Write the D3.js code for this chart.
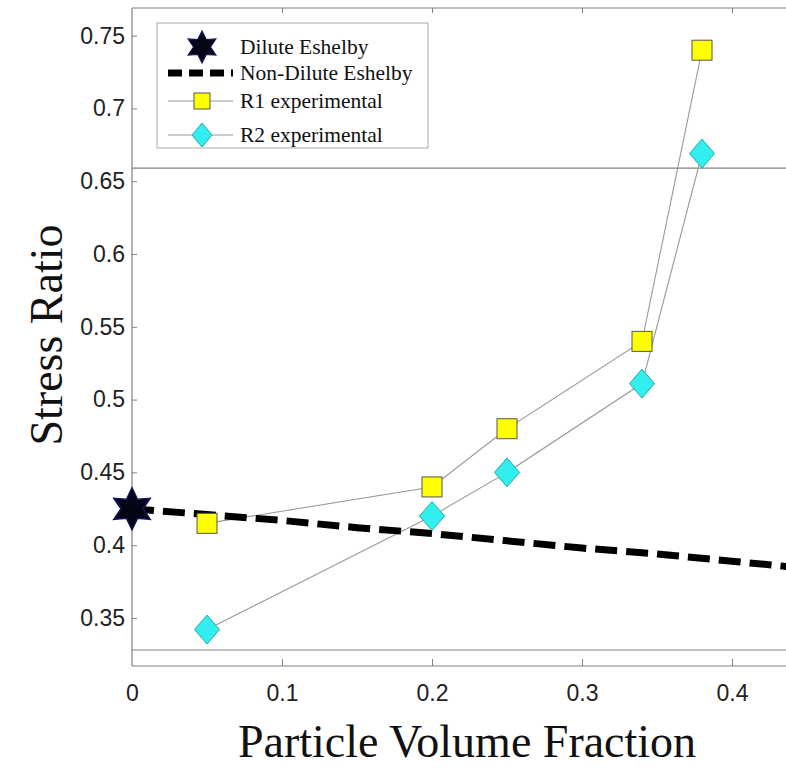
<!DOCTYPE html>
<html><head><meta charset="utf-8">
<script src="https://cdn.jsdelivr.net/npm/d3@7/dist/d3.min.js"></script>
<style>
html,body{margin:0;padding:0;background:#fff;}
svg{display:block;}
</style></head>
<body>
<script>
// ---- data ----
const xTickValues = [0, 0.1, 0.2, 0.3, 0.4];
const xTickLabels = ["0", "0.1", "0.2", "0.3", "0.4"];
const yTickValues = [0.35, 0.4, 0.45, 0.5, 0.55, 0.6, 0.65, 0.7, 0.75];
const yTickLabels = ["0.35", "0.4", "0.45", "0.5", "0.55", "0.6", "0.65", "0.7", "0.75"];
const expX = [0.05, 0.2, 0.25, 0.34, 0.38];
const r1Values = [0.415, 0.44, 0.48, 0.54, 0.74];
const r2Values = [0.342, 0.42, 0.45, 0.511, 0.669];
const diluteX = [0];
const diluteY = [0.425];
const nonDiluteX = [0, 0.05, 0.1, 0.15, 0.2, 0.25, 0.3, 0.35, 0.4, 0.45];
const nonDiluteY = [0.425, 0.421, 0.417, 0.412, 0.408, 0.403, 0.398, 0.394, 0.389, 0.384];
const refLineValues = [0.659, 0.328];
const legendLabels = ["Dilute Eshelby", "Non-Dilute Eshelby", "R1 experimental", "R2 experimental"];

const W = 786, H = 770;
const svg = d3.select("body").append("svg").attr("width", W).attr("height", H);

const x = d3.scaleLinear().domain([0, 0.436]).range([132, 786]);
const y = d3.scaleLinear().domain([0.317, 0.769]).range([666, 8]);
const axisColor = "#808080";

// frame / reference lines
svg.append("line").attr("x1", x(0)).attr("x2", W).attr("y1", y(0.769)).attr("y2", y(0.769))
  .attr("stroke", axisColor).attr("stroke-width", 1.2);
refLineValues.forEach(v => {
  svg.append("line").attr("x1", x(0)).attr("x2", W).attr("y1", y(v)).attr("y2", y(v))
    .attr("stroke", axisColor).attr("stroke-width", 1.2);
});

// axes
const tickFont = "'Liberation Sans', Arial, sans-serif";
const gx = svg.append("g").attr("transform", `translate(0,${y(0.317)})`)
  .call(d3.axisBottom(x).tickValues(xTickValues).tickFormat((d, i) => xTickLabels[i]).tickSize(-7).tickPadding(19));
const gy = svg.append("g").attr("transform", `translate(${x(0)},0)`)
  .call(d3.axisLeft(y).tickValues(yTickValues).tickFormat((d, i) => yTickLabels[i]).tickSize(-5).tickPadding(7));
const gTop = svg.append("g").attr("transform", `translate(0,${y(0.769)})`)
  .call(d3.axisTop(x).tickValues(xTickValues.slice(1)).tickFormat("").tickSize(-5));
gTop.select(".domain").remove();
[gx, gy, gTop].forEach(g => {
  g.select(".domain").attr("stroke", axisColor).attr("stroke-width", 1.2);
  g.selectAll(".tick line").attr("stroke", axisColor);
  g.selectAll("text").attr("font-family", tickFont).attr("font-size", 23).attr("fill", "#222");
});
gx.selectAll(".tick").filter((d, i) => i === 0).select("line").remove();
gx.select(".domain").attr("d", `M${x(0)},0H${W}`);
gy.select(".domain").attr("d", `M0,${y(0.317)}V${y(0.769)}`);

// lines connecting experimental points
const lineGen = d3.line().x(d => x(d[0])).y(d => y(d[1]));
const r1Pts = expX.map((v, i) => [v, r1Values[i]]);
const r2Pts = expX.map((v, i) => [v, r2Values[i]]);
svg.append("path").attr("d", lineGen(r1Pts)).attr("fill", "none").attr("stroke", "#999").attr("stroke-width", 1.1);
svg.append("path").attr("d", lineGen(r2Pts)).attr("fill", "none").attr("stroke", "#999").attr("stroke-width", 1.1);

// non-dilute dashed line
const ndPts = nonDiluteX.map((v, i) => [v, nonDiluteY[i]]);
svg.append("path").attr("d", lineGen(ndPts)).attr("fill", "none").attr("stroke", "#000")
  .attr("stroke-width", 7).attr("stroke-dasharray", "22,9");

// markers
function diamondPath(cx, cy, w, h) {
  return `M${cx},${cy - h / 2}L${cx + w / 2},${cy}L${cx},${cy + h / 2}L${cx - w / 2},${cy}Z`;
}
function starPath(cx, cy, R, r) {
  const pts = [];
  for (let k = 0; k < 12; k++) {
    const a = -Math.PI / 2 + k * Math.PI / 6;
    const rad = k % 2 === 0 ? R : r;
    pts.push([cx + rad * Math.cos(a), cy + rad * Math.sin(a)]);
  }
  return "M" + pts.map(p => p.join(",")).join("L") + "Z";
}
const sq = 20;
svg.selectAll("rect.r1").data(r1Pts).enter().append("rect")
  .attr("x", d => x(d[0]) - sq / 2).attr("y", d => y(d[1]) - sq / 2)
  .attr("width", sq).attr("height", sq)
  .attr("fill", "#ffff00").attr("stroke", "#555").attr("stroke-width", 1);
svg.selectAll("path.r2").data(r2Pts).enter().append("path")
  .attr("d", d => diamondPath(x(d[0]), y(d[1]), 25, 29))
  .attr("fill", "#33eeee").attr("stroke", "#2aa").attr("stroke-width", 1);
diluteX.forEach((v, i) => {
  svg.append("path").attr("d", starPath(x(v), y(diluteY[i]), 21, 11))
    .attr("fill", "#050515").attr("stroke", "#14145a").attr("stroke-width", 1.5);
});

// legend
const lg = svg.append("g");
lg.append("rect").attr("x", 157).attr("y", 23).attr("width", 271).attr("height", 125)
  .attr("fill", "#fff").attr("stroke", "#aaa").attr("stroke-width", 1);
const legY = [47, 73, 101, 135];
const serif = "'Liberation Serif', 'Times New Roman', serif";
lg.append("path").attr("d", starPath(202, legY[0], 16, 8.5)).attr("fill", "#050515").attr("stroke", "#14145a").attr("stroke-width", 1.2);
lg.append("line").attr("x1", 168).attr("x2", 233).attr("y1", legY[1]).attr("y2", legY[1])
  .attr("stroke", "#000").attr("stroke-width", 7).attr("stroke-dasharray", "14,7");
[2, 3].forEach(i => {
  lg.append("line").attr("x1", 168).attr("x2", 233).attr("y1", legY[i]).attr("y2", legY[i])
    .attr("stroke", "#999").attr("stroke-width", 1.1);
});
lg.append("rect").attr("x", 194).attr("y", legY[2] - 8).attr("width", 16).attr("height", 16)
  .attr("fill", "#ffff00").attr("stroke", "#555");
lg.append("path").attr("d", diamondPath(202, legY[3], 20, 24)).attr("fill", "#33eeee").attr("stroke", "#2aa");
legendLabels.forEach((t, i) => {
  lg.append("text").attr("x", 240).attr("y", legY[i] + 7).text(t)
    .attr("font-family", serif).attr("font-size", 21.5).attr("fill", "#111");
});

// axis titles
svg.append("text").attr("x", 467).attr("y", 757).attr("text-anchor", "middle")
  .attr("font-family", serif).attr("font-size", 46).attr("fill", "#111").text("Particle Volume Fraction");
svg.append("text").attr("transform", `translate(62,335) rotate(-90)`).attr("text-anchor", "middle")
  .attr("font-family", serif).attr("font-size", 46).attr("fill", "#111").text("Stress Ratio");
</script>
</body></html>
